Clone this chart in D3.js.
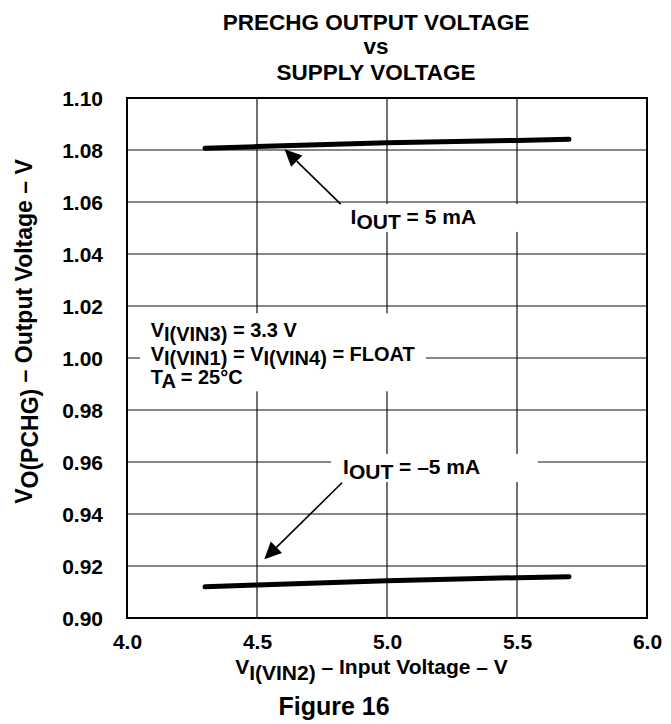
<!DOCTYPE html>
<html><head><meta charset="utf-8">
<script src="https://cdn.jsdelivr.net/npm/d3@7/dist/d3.min.js"></script>
<style>
body{margin:0;background:#fff}
svg{display:block}
text{font-family:"Liberation Sans",Arial,Helvetica,sans-serif;font-weight:bold;fill:#000}
</style>
</head><body>
<svg id="chart" width="671" height="724"></svg>
<script>
// ---- data ----
const xTickValues = [4.0, 4.5, 5.0, 5.5, 6.0];
const yTickValues = [0.90, 0.92, 0.94, 0.96, 0.98, 1.00, 1.02, 1.04, 1.06, 1.08, 1.10];
const supplyVoltage = [4.3, 4.5, 5.0, 5.5, 5.7];
const voutIout5mA = [1.0807, 1.0813, 1.0828, 1.0837, 1.0841];
const voutIoutNeg5mA = [0.9120, 0.9127, 0.9143, 0.9155, 0.9159];
const titleLines = ["PRECHG OUTPUT VOLTAGE", "vs", "SUPPLY VOLTAGE"];
const figureLabel = "Figure 16";

// ---- layout ----
const svg = d3.select("#chart");
const x = d3.scaleLinear().domain([4.0, 6.0]).range([127, 647]);
const y = d3.scaleLinear().domain([0.90, 1.10]).range([618, 98]);

// grid
const grid = svg.append("g").attr("stroke", "#111").attr("stroke-width", 1.2);
grid.selectAll("line.v").data(xTickValues.slice(1, -1)).join("line")
  .attr("x1", d => x(d)).attr("x2", d => x(d)).attr("y1", y(1.10)).attr("y2", y(0.90));
grid.selectAll("line.h").data(yTickValues.slice(1, -1)).join("line")
  .attr("y1", d => y(d)).attr("y2", d => y(d)).attr("x1", x(4.0)).attr("x2", x(6.0));

// white masks behind annotations (in data units)
const masks = [
  {x0: 4.050, x1: 5.150, y0: 1.0172, y1: 0.9872},  // conditions block
  {x0: 4.830, x1: 5.550, y0: 1.0592, y1: 1.0485},  // IOUT = 5 mA
  {x0: 4.785, x1: 5.580, y0: 0.9631, y1: 0.9523}   // IOUT = -5 mA
];
svg.append("g").selectAll("rect").data(masks).join("rect")
  .attr("x", d => x(d.x0)).attr("width", d => x(d.x1) - x(d.x0))
  .attr("y", d => y(d.y0)).attr("height", d => y(d.y1) - y(d.y0))
  .attr("fill", "#fff");

// frame
svg.append("rect").attr("x", x(4.0)).attr("y", y(1.10))
  .attr("width", x(6.0) - x(4.0)).attr("height", y(0.90) - y(1.10))
  .attr("fill", "none").attr("stroke", "#000").attr("stroke-width", 2);

// axes (labels only)
const xAxis = svg.append("g").attr("transform", `translate(0,${y(0.90)})`)
  .call(d3.axisBottom(x).tickValues(xTickValues).tickFormat(d3.format(".1f")).tickSize(0).tickPadding(0));
xAxis.select(".domain").remove();
xAxis.selectAll("text").attr("y", 31).attr("dy", 0)
  .attr("font-size", 21).attr("fill", "#000");

const yAxis = svg.append("g").attr("transform", `translate(${x(4.0)},0)`)
  .call(d3.axisLeft(y).tickValues(yTickValues).tickFormat(d3.format(".2f")).tickSize(0).tickPadding(24));
yAxis.select(".domain").remove();
yAxis.selectAll("text").attr("dy", "0.36em")
  .attr("font-size", 21).attr("fill", "#000");
svg.selectAll(".tick line").remove();
xAxis.attr("font-family", null); yAxis.attr("font-family", null);

// data lines
const line = d3.line().x(d => x(d[0])).y(d => y(d[1]));
[voutIout5mA, voutIoutNeg5mA].forEach(vals => {
  svg.append("path").datum(supplyVoltage.map((v, i) => [v, vals[i]]))
    .attr("d", line).attr("fill", "none").attr("stroke", "#000")
    .attr("stroke-width", 5).attr("stroke-linecap", "round");
});

// arrows (data units)
const arrows = [
  {from: [4.822, 1.0592], to: [4.606, 1.0803]},
  {from: [4.827, 0.9520], to: [4.528, 0.9226]}
];
arrows.forEach(a => {
  const x0 = x(a.from[0]), y0 = y(a.from[1]), x1 = x(a.to[0]), y1 = y(a.to[1]);
  const dx = x1 - x0, dy = y1 - y0, L = Math.hypot(dx, dy), ux = dx / L, uy = dy / L;
  const hl = 17, hw = 8;
  const bx = x1 - ux * hl, by = y1 - uy * hl;
  svg.append("line").attr("x1", x0).attr("y1", y0).attr("x2", bx).attr("y2", by)
    .attr("stroke", "#000").attr("stroke-width", 1.6);
  svg.append("path")
    .attr("d", `M${x1},${y1}L${bx - uy * hw},${by + ux * hw}L${bx + uy * hw},${by - ux * hw}Z`)
    .attr("fill", "#000");
});

// helper for text with subscripts
function richText(g, parts, sub) {
  parts.forEach(p => {
    const t = g.append("tspan").text(p.t);
    if (p.s) t.attr("dy", sub); else if (p.after) t.attr("dy", -sub);
  });
}
function seq(arr) {
  const out = []; let prevSub = false;
  arr.forEach(([t, s]) => { out.push({t, s: s && !prevSub, after: !s && prevSub}); prevSub = s; });
  return out;
}

// annotation labels
const t1 = svg.append("text").attr("x", x(4.860)).attr("y", y(1.0515)).attr("font-size", 21);
richText(t1, seq([["I", false], ["OUT", true], [" = 5 mA", false]]), 5);
const t2 = svg.append("text").attr("x", x(4.831)).attr("y", y(0.9554)).attr("font-size", 21);
richText(t2, seq([["I", false], ["OUT", true], [" = \u20135 mA", false]]), 5);

const condBaselines = [1.0081, 0.9990, 0.9900];
const c1 = svg.append("text").attr("x", x(4.091)).attr("y", y(condBaselines[0])).attr("font-size", 20);
richText(c1, seq([["V", false], ["I(VIN3)", true], [" = 3.3 V", false]]), 4);
const c2 = svg.append("text").attr("x", x(4.091)).attr("y", y(condBaselines[1])).attr("font-size", 20);
richText(c2, seq([["V", false], ["I(VIN1)", true], [" = ", false], ["V", false], ["I(VIN4)", true], [" = FLOAT", false]]), 4);
const c3 = svg.append("text").attr("x", x(4.091)).attr("y", y(condBaselines[2])).attr("font-size", 20);
richText(c3, seq([["T", false], ["A", true], [" = 25\u00B0C", false]]), 4);

// title
svg.append("g").selectAll("text").data(titleLines).join("text")
  .attr("x", 376).attr("y", (d, i) => [30, 54, 80][i])
  .attr("text-anchor", "middle").attr("font-size", 22.5).text(d => d);

// axis titles
const xt = svg.append("text").attr("x", 371.5).attr("y", 674).attr("text-anchor", "middle").attr("font-size", 21);
richText(xt, seq([["V", false], ["I(VIN2)", true], [" \u2013 Input Voltage \u2013 V", false]]), 6);
const yt = svg.append("text").attr("transform", "translate(32,331.5) rotate(-90)")
  .attr("text-anchor", "middle").attr("font-size", 23);
richText(yt, seq([["V", false], ["O(PCHG)", true], [" \u2013 Output Voltage \u2013 V", false]]), 6);

// figure label
svg.append("text").attr("x", 334).attr("y", 715).attr("text-anchor", "middle")
  .attr("font-size", 25).text(figureLabel);
</script>
</body></html>
